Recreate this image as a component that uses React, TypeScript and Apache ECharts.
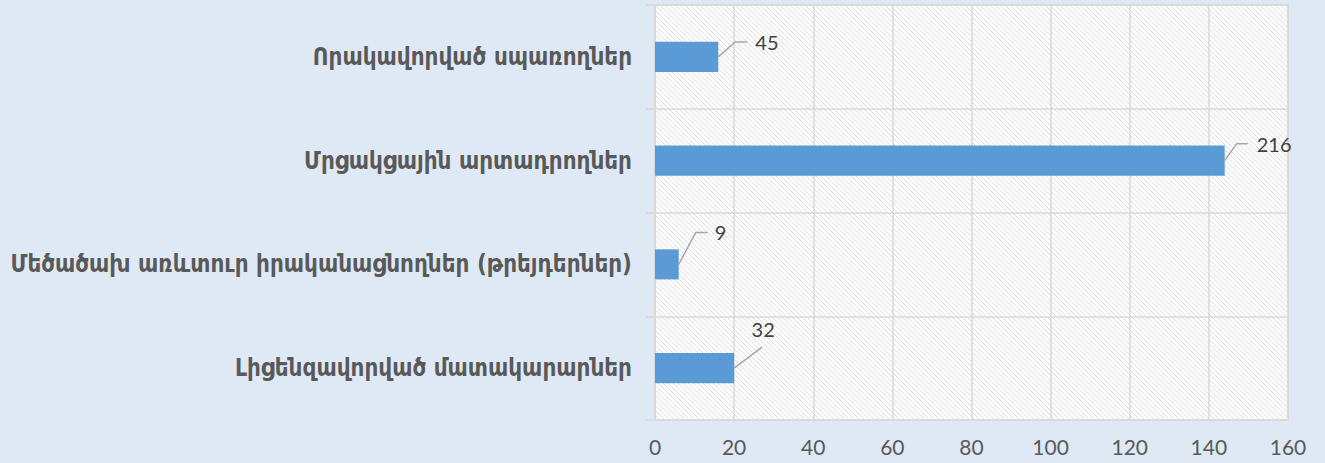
import React, { useEffect, useRef } from "react";
import * as echarts from "echarts";

const categories = [
  "Որակավորված սպառողներ",
  "Մրցակցային արտադրողներ",
  "Մեծածախ առևտուր իրականացնողներ (թրեյդերներ)",
  "Լիցենզավորված մատակարարներ",
];
const barValues = [16, 144, 6, 20];
const labelTexts = ["45", "216", "9", "32"];

// leader-line styling (offsets relative to bar end, in px)
const leaders = [
  { pts: [[0, 0], [17, -15], [29, -15]], text: [37, -15], align: "left" },
  { pts: [[0, 0], [12, -17], [23, -17]], text: [32, -17], align: "left" },
  { pts: [[0, 0], [17, -32], [29, -32]], text: [36, -32], align: "left" },
  { pts: [[0, 0], [28, -21]], text: [29, -39], align: "center" },
];

const hatch =
  "data:image/svg+xml;utf8," +
  encodeURIComponent(
    "<svg xmlns='http://www.w3.org/2000/svg' width='5' height='5'><rect width='5' height='5' fill='white'/><path d='M-1,-1 L6,6 M-1,4 L1,6 M4,-1 L6,1' stroke='#dcdcdc' stroke-width='1'/></svg>"
  );

export default function App() {
  const ref = useRef<HTMLDivElement>(null);
  useEffect(() => {
    const chart = echarts.init(ref.current!, null, { renderer: "svg" });
    chart.setOption({
      animation: false,
      backgroundColor: "#dee9f5",
      grid: {
        left: 655,
        right: 37,
        top: 5,
        bottom: 43,
        show: true,
        backgroundColor: { image: hatch, repeat: "repeat", imageWidth: 5, imageHeight: 5 },
        borderColor: "#d9d9d9",
        borderWidth: 1.5,
      },
      xAxis: {
        type: "value",
        min: 0,
        max: 160,
        interval: 20,
        axisLine: { show: false },
        axisTick: { show: false },
        splitLine: { show: true, lineStyle: { color: "#d9d9d9", width: 1.5 } },
        axisLabel: {
          color: "#595959",
          fontSize: 21,
          fontFamily: "Lato, 'Open Sans', sans-serif",
          margin: 16,
        },
      },
      yAxis: {
        type: "category",
        inverse: true,
        data: categories,
        axisLine: { show: true, lineStyle: { color: "#d9d9d9", width: 1.5 } },
        axisTick: { show: true, length: 9, lineStyle: { color: "#d9d9d9", width: 1.5 } },
        splitLine: { show: true, lineStyle: { color: "#d9d9d9", width: 1.5 } },
        axisLabel: {
          color: "#595959",
          fontSize: 24,
          fontWeight: "bold",
          fontFamily: "'DejaVu Sans Condensed', 'DejaVu Sans', sans-serif",
          margin: 23,
        },
      },
      series: [
        {
          type: "bar",
          data: barValues,
          barWidth: "29%",
          itemStyle: { color: "#5b9bd5" },
        },
        {
          type: "custom",
          data: barValues.map((v, i) => [v, i]),
          encode: { x: 0, y: 1 },
          z: 5,
          renderItem: (params: any, api: any) => {
            const i = params.dataIndex;
            const p = api.coord([api.value(0), api.value(1)]);
            const L = leaders[i];
            return {
              type: "group",
              children: [
                {
                  type: "polyline",
                  shape: { points: L.pts.map((q) => [p[0] + q[0], p[1] + q[1]]) },
                  style: { stroke: "#a6a6a6", lineWidth: 1.5, fill: null },
                },
                {
                  type: "text",
                  x: p[0] + L.text[0],
                  y: p[1] + L.text[1],
                  style: {
                    text: labelTexts[i],
                    fill: "#404040",
                    fontSize: 20,
                    fontFamily: "Lato, 'Open Sans', sans-serif",
                    align: L.align,
                    verticalAlign: "middle",
                  },
                },
              ],
            };
          },
        },
      ],
    });
    return () => chart.dispose();
  }, []);
  return <div ref={ref} style={{ width: 1325, height: 463, position: "absolute", left: 0, top: 0 }} />;
}
